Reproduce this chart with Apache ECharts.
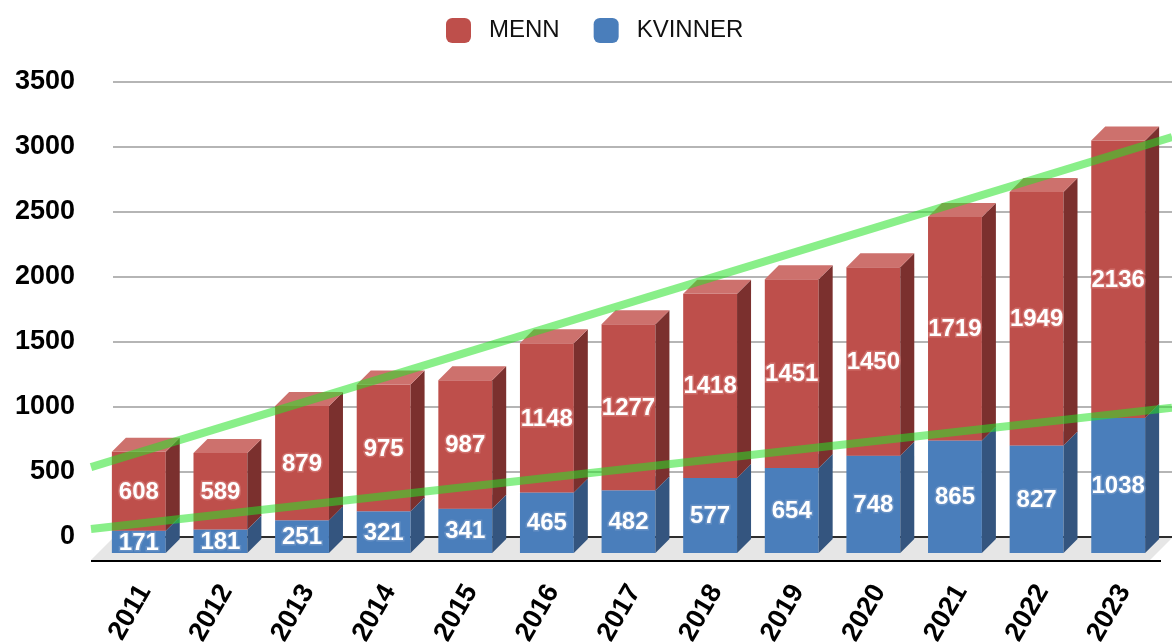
<!DOCTYPE html>
<html>
<head>
<meta charset="utf-8">
<script src="https://cdn.jsdelivr.net/npm/echarts@6/dist/echarts.min.js"></script>
<style>
  html, body { margin: 0; padding: 0; background: #fff; }
  #chart { width: 1172px; height: 642px; }
</style>
</head>
<body>
<div id="chart"></div>
<script>
var years = ['2011', '2012', '2013', '2014', '2015', '2016', '2017', '2018', '2019', '2020', '2021', '2022', '2023'];
var kvinner = [171, 181, 251, 321, 341, 465, 482, 577, 654, 748, 865, 827, 1038];
var menn = [608, 589, 879, 975, 987, 1148, 1277, 1418, 1451, 1450, 1719, 1949, 2136];
// trend lines: value at left edge, value at right edge
var totalTrend = [538, 3077];
var kvinnerTrend = [62, 995];
var yTicks = [0, 3500, 500];

var FONT = 'Liberation Sans, Arial, sans-serif';
var DEPTH = 14;

var red = { face: '#be4f4b', side: '#7b302e', top: '#cd716d', halo: '#cf6e6a' };
var blue = { face: '#4a7ebb', side: '#34557f', top: '#7ba0cc', halo: '#6690c4' };

function barRender(values, base, c) {
    return function (params, api) {
        var i = params.dataIndex;
        var lo = base ? base[i] : 0;
        var hi = lo + values[i];
        var p0 = api.coord([i, lo]);
        var p1 = api.coord([i, hi]);
        var w = api.size([1, 0])[0] * 0.66;
        var x0 = p0[0] - w / 2, x1 = p0[0] + w / 2;
        var yb = p0[1], yt = p1[1];
        return {
            type: 'group',
            children: [
                { type: 'rect', shape: { x: x0, y: yt, width: w, height: yb - yt }, style: { fill: c.face } },
                { type: 'polygon', shape: { points: [[x1, yb], [x1, yt], [x1 + DEPTH, yt - DEPTH], [x1 + DEPTH, yb - DEPTH]] }, style: { fill: c.side } },
                { type: 'polygon', shape: { points: [[x0, yt], [x1, yt], [x1 + DEPTH, yt - DEPTH], [x0 + DEPTH, yt - DEPTH]] }, style: { fill: c.top } },
                {
                    type: 'text', z2: 10,
                    style: {
                        text: String(values[i]), x: p0[0], y: (yb + yt) / 2 + 1,
                        align: 'center', verticalAlign: 'middle',
                        fill: '#fff', stroke: c.halo, lineWidth: 3,
                        font: 'bold 24px ' + FONT
                    }
                }
            ]
        };
    };
}

function floorRender(params, api) {
    var cs = params.coordSys;
    var bottom = cs.y + cs.height;
    var left = cs.x, right = cs.x + cs.width;
    return {
        type: 'group',
        children: [
            { type: 'polygon', shape: { points: [[left - 7, bottom + 7], [left + 15, bottom - 15], [right + 13, bottom - 15], [right - 9, bottom + 7]] }, style: { fill: '#e6e6e6' } },
            { type: 'line', shape: { x1: left - 7, y1: bottom + 8, x2: right + 2, y2: bottom + 8 }, style: { stroke: '#000', lineWidth: 2 } }
        ]
    };
}

var chart = echarts.init(document.getElementById('chart'));

chart.setOption({
    animation: false,
    backgroundColor: '#fff',
    legend: {
        data: ['MENN', 'KVINNER'],
        left: 441, top: 13,
        itemWidth: 25, itemHeight: 25, itemGap: 34,
        icon: 'roundRect',
        textStyle: { fontFamily: FONT, fontSize: 24, color: '#111', padding: [0, 0, 0, 13] }
    },
    grid: [
        // back wall
        { left: 113, right: 0, top: 82, bottom: 105, outerBoundsMode: 'none' },
        // front plane of the bars
        { left: 98, right: 13, top: 98, bottom: 89, outerBoundsMode: 'none' },
        // trend lines span
        { left: 91, right: 0, top: 82, bottom: 105, outerBoundsMode: 'none' },
        // year labels, nudged a little right of the front plane
        { left: 104, right: 7, top: 98, bottom: 89, outerBoundsMode: 'none' }
    ],
    xAxis: [
        {
            gridIndex: 0, type: 'category', data: years,
            axisLine: { lineStyle: { color: '#000', width: 1.5 } },
            axisTick: { show: false },
            axisLabel: { show: false }
        },
        { gridIndex: 1, type: 'category', data: years, show: false },
        { gridIndex: 2, type: 'value', min: 0, max: 1, show: false },
        {
            gridIndex: 3, type: 'category', data: years,
            axisLine: { show: false }, axisTick: { show: false },
            axisLabel: { rotate: 60, margin: 34, fontFamily: FONT, fontWeight: 'bold', fontSize: 27, color: '#000' }
        }
    ],
    yAxis: [
        {
            gridIndex: 0, type: 'value', min: yTicks[0], max: yTicks[1], interval: yTicks[2],
            axisLine: { show: false }, axisTick: { show: false },
            axisLabel: {
                margin: 38, fontFamily: FONT, fontWeight: 'bold', fontSize: 27, color: '#000',
                formatter: function (v) { return String(v); }
            },
            splitLine: { lineStyle: { color: '#b5b5b5', width: 2 } }
        },
        { gridIndex: 1, type: 'value', min: yTicks[0], max: yTicks[1], show: false },
        { gridIndex: 2, type: 'value', min: yTicks[0], max: yTicks[1], show: false },
        { gridIndex: 3, type: 'value', min: yTicks[0], max: yTicks[1], show: false }
    ],
    series: [
        {
            type: 'custom', name: 'floor', xAxisIndex: 1, yAxisIndex: 1, z: 1, silent: true,
            data: [[0, 0]], renderItem: floorRender
        },
        {
            type: 'custom', name: 'KVINNER', xAxisIndex: 1, yAxisIndex: 1, z: 2, silent: true,
            itemStyle: { color: blue.face },
            data: kvinner.map(function (v, i) { return [i, v]; }),
            renderItem: barRender(kvinner, null, blue)
        },
        {
            type: 'custom', name: 'MENN', xAxisIndex: 1, yAxisIndex: 1, z: 2, silent: true,
            itemStyle: { color: red.face },
            data: menn.map(function (v, i) { return [i, v + kvinner[i]]; }),
            renderItem: barRender(menn, kvinner, red)
        },
        {
            type: 'line', name: 'trend total', xAxisIndex: 2, yAxisIndex: 2, z: 5, silent: true,
            symbol: 'none',
            lineStyle: { color: 'rgba(40,225,40,0.55)', width: 8 },
            data: [[0, totalTrend[0]], [1, totalTrend[1]]]
        },
        {
            type: 'line', name: 'trend kvinner', xAxisIndex: 2, yAxisIndex: 2, z: 5, silent: true,
            symbol: 'none',
            lineStyle: { color: 'rgba(40,225,40,0.55)', width: 8 },
            data: [[0, kvinnerTrend[0]], [1, kvinnerTrend[1]]]
        }
    ]
});
</script>
</body>
</html>
